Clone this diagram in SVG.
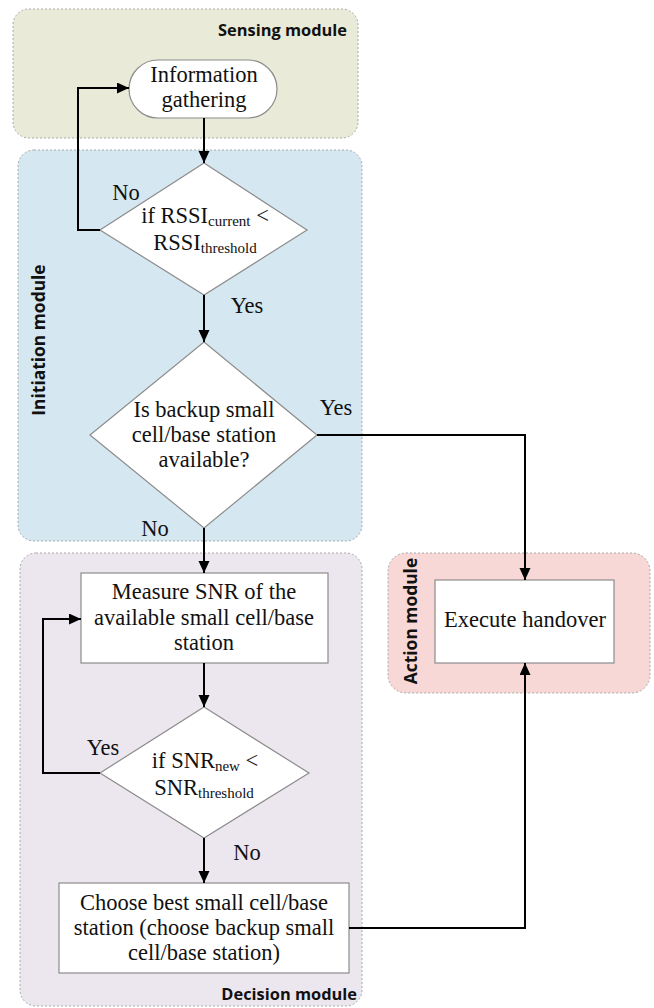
<svg xmlns="http://www.w3.org/2000/svg" width="654" height="1008" viewBox="0 0 654 1008">
<style>
.mod{stroke:#a9a9a9;stroke-width:1;stroke-dasharray:2 2}
.modlbl{font-family:"Open Sans","Liberation Sans",sans-serif;font-weight:700;font-size:16.4px;fill:#111}
.vlbl{font-size:17.4px}
.node{fill:#fff;stroke:#8c8c8c;stroke-width:1.2}
.t{font-family:"Liberation Serif","Times New Roman",serif;font-size:22.5px;fill:#111;text-anchor:middle}
.sub{font-size:15px}
.lbl{font-family:"Liberation Serif","Times New Roman",serif;font-size:22.5px;fill:#111;text-anchor:middle}
.c{fill:none;stroke:#000;stroke-width:2;marker-end:url(#ah)}
</style>
<defs>
<marker id="ah" markerUnits="userSpaceOnUse" markerWidth="12" markerHeight="12" refX="12" refY="5.5" orient="auto">
<path d="M0,0 L12,5.5 L0,11 z" fill="#000"/>
</marker>
</defs>
<rect width="654" height="1008" fill="#fff"/>

<g id="sensing-module">
<rect class="mod" x="13" y="9" width="345" height="129" rx="16" fill="#e9ead7"/>
<text class="modlbl" x="347" y="36" text-anchor="end">Sensing module</text>
</g>
<g id="initiation-module">
<rect class="mod" x="18" y="150" width="344" height="391" rx="16" fill="#d5e7f0"/>
<text class="modlbl vlbl" x="45" y="340" text-anchor="middle" transform="rotate(-90 45 340)">Initiation module</text>
</g>
<g id="decision-module">
<rect class="mod" x="20" y="553" width="342" height="453" rx="16" fill="#ece7ef"/>
<text class="modlbl" x="357" y="1000" text-anchor="end">Decision module</text>
</g>
<g id="action-module">
<rect class="mod" x="388" y="553" width="262" height="140" rx="18" fill="#f7d8d7"/>
<text class="modlbl vlbl" x="417" y="621" text-anchor="middle" transform="rotate(-90 417 621)">Action module</text>
</g>

<g id="info-gathering">
<rect class="node" x="129" y="60" width="148" height="58" rx="29"/>
<text class="t" x="204" y="82">Information</text>
<text class="t" x="204" y="107">gathering</text>
</g>
<g id="rssi-check">
<polygon class="node" points="204,163 307,230 204,295 100,230"/>
<text class="t" x="205" y="223">if RSSI<tspan class="sub" dy="3">current</tspan><tspan dy="-3"> &lt;</tspan></text>
<text class="t" x="205" y="250">RSSI<tspan class="sub" dy="3">threshold</tspan></text>
</g>
<g id="backup-check">
<polygon class="node" points="204,342 317,435 204,528 90,435"/>
<text class="t" x="204" y="417">Is backup small</text>
<text class="t" x="204" y="442">cell/base station</text>
<text class="t" x="204" y="467">available?</text>
</g>
<g id="measure-snr">
<rect class="node" x="81" y="573" width="247" height="90"/>
<text class="t" x="204" y="599">Measure SNR of the</text>
<text class="t" x="204" y="625">available small cell/base</text>
<text class="t" x="204" y="650">station</text>
</g>
<g id="snr-check">
<polygon class="node" points="204,707 309,773 204,838 100,773"/>
<text class="t" x="205" y="768">if SNR<tspan class="sub" dy="3">new</tspan><tspan dy="-3"> &lt;</tspan></text>
<text class="t" x="204" y="795">SNR<tspan class="sub" dy="3">threshold</tspan></text>
</g>
<g id="choose-best">
<rect class="node" x="59" y="883" width="290" height="90"/>
<text class="t" x="204" y="910">Choose best small cell/base</text>
<text class="t" x="204" y="935">station (choose backup small</text>
<text class="t" x="204" y="960">cell/base station)</text>
</g>
<g id="execute-handover">
<rect class="node" x="435" y="580" width="179" height="83"/>
<text class="t" x="525" y="627">Execute handover</text>
</g>

<g id="connectors">
<path class="c" d="M204,118 V163"/>
<path class="c" d="M100,230 H78 V88 H129"/>
<path class="c" d="M204,295 V342"/>
<path class="c" d="M317,435 H525 V580"/>
<path class="c" d="M204,528 V573"/>
<path class="c" d="M204,663 V707"/>
<path class="c" d="M100,773 H43 V619 H81"/>
<path class="c" d="M204,838 V883"/>
<path class="c" d="M349,928 H525 V663"/>
<text class="lbl" x="126" y="200">No</text>
<text class="lbl" x="247" y="313">Yes</text>
<text class="lbl" x="336" y="415">Yes</text>
<text class="lbl" x="155" y="536">No</text>
<text class="lbl" x="103" y="755">Yes</text>
<text class="lbl" x="247" y="860">No</text>
</g>
</svg>
